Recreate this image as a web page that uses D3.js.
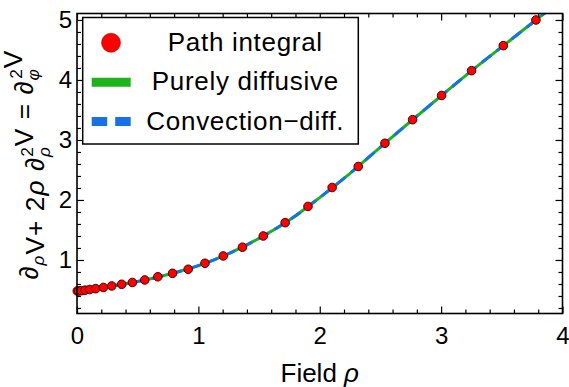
<!DOCTYPE html>
<html>
<head>
<meta charset="utf-8">
<script src="https://cdn.jsdelivr.net/npm/d3@7"></script>
<style>
  html, body { margin: 0; padding: 0; background: #fff; }
  svg { display: block; font-family: "Liberation Sans", Arial, Helvetica, sans-serif; }
</style>
</head>
<body>
<svg id="chart" width="569" height="387"></svg>
<script>
// path integral points (rho, value)
const rho = [0.0025, 0.014, 0.035, 0.066, 0.105, 0.154, 0.217, 0.286, 0.368, 0.456, 0.558, 0.666, 0.787, 0.916,
  1.054, 1.205, 1.363, 1.535, 1.715, 1.903, 2.102, 2.317, 2.537, 2.765, 3.004, 3.251, 3.512, 3.781]
const pathIntegral = [0.483, 0.485, 0.488, 0.497, 0.508, 0.522, 0.542, 0.567, 0.595, 0.625, 0.667, 0.72, 0.778, 0.845,
  0.945, 1.067, 1.213, 1.40, 1.622, 1.892, 2.208, 2.558, 2.945, 3.338, 3.742, 4.155, 4.572, 5.0]

// the two analytic curves lie on top of each other
const curveRho = [0, 0.25, 0.5, 0.75, 1.0, 1.25, 1.5, 1.75, 2.0, 2.25, 2.5, 2.75, 3.0, 3.25, 3.5, 3.75, 4.0]
const curveValue = [0.482, 0.555, 0.64, 0.758, 0.905, 1.105, 1.36, 1.665, 2.04, 2.445, 2.88, 3.312, 3.735, 4.153, 4.552, 4.95, 5.35]

const xTicks = [0, 1, 2, 3, 4]
const yTicks = [1, 2, 3, 4, 5]
const legendLabels = ["Path integral", "Purely diffusive", "Convection\u2212diff."]

const red = "#ff0000"
const green = "#1db31d"
const blue = "#1673e6"

const plotLeft = 77, plotRight = 562.5, plotTop = 13.5, plotBottom = 313.5

const svg = d3.select("#chart")

const x = d3.scaleLinear().domain([0, 4]).range([plotLeft, plotRight])
const y = d3.scaleLinear().domain([0.108, 5.108]).range([plotBottom, plotTop])

const minorX = d3.range(0, 4.001, 0.2).filter(v => Math.abs(v - Math.round(v)) > 1e-6)
const minorY = d3.range(0.2, 5.101, 0.2).filter(v => Math.abs(v - Math.round(v)) > 1e-6)

// clip for the curves
svg.append("clipPath").attr("id", "plotClip")
  .append("rect")
  .attr("x", plotLeft).attr("y", plotTop)
  .attr("width", plotRight - plotLeft).attr("height", plotBottom - plotTop)

const line = d3.line()
  .x((d, i) => x(curveRho[i]))
  .y(d => y(d))
  .curve(d3.curveMonotoneX)

const curves = svg.append("g").attr("clip-path", "url(#plotClip)")

curves.append("path")
  .attr("d", line(curveValue))
  .attr("fill", "none")
  .attr("stroke", green)
  .attr("stroke-width", 3)

curves.append("path")
  .attr("d", line(curveValue))
  .attr("fill", "none")
  .attr("stroke", blue)
  .attr("stroke-width", 3)
  .attr("stroke-dasharray", "12,7")

svg.append("g")
  .selectAll("circle")
  .data(pathIntegral)
  .join("circle")
  .attr("cx", (d, i) => x(rho[i]))
  .attr("cy", d => y(d))
  .attr("r", 4.3)
  .attr("fill", red)
  .attr("stroke", "#4a0000")
  .attr("stroke-width", 1)

// frame axes, ticks pointing inward
function styleAxis(g) {
  g.select(".domain").remove()
  g.attr("font-family", null).attr("font-size", null)
  g.selectAll(".tick line").attr("stroke", "#000").attr("stroke-width", 1.2)
  g.selectAll(".tick text").attr("fill", "#000").style("font-size", "24px")
}

svg.append("g")
  .attr("transform", `translate(0,${plotBottom})`)
  .call(d3.axisBottom(x).tickValues(xTicks).tickSizeInner(-7).tickSizeOuter(0).tickPadding(13).tickFormat(d3.format("d")))
  .call(styleAxis)
svg.append("g")
  .attr("transform", `translate(0,${plotBottom})`)
  .call(d3.axisBottom(x).tickValues(minorX).tickSizeInner(-4).tickSizeOuter(0).tickFormat(""))
  .call(styleAxis)

svg.append("g")
  .attr("transform", `translate(${plotLeft},0)`)
  .call(d3.axisLeft(y).tickValues(yTicks).tickSizeInner(-7).tickSizeOuter(0).tickPadding(5).tickFormat(d3.format("d")))
  .call(styleAxis)
svg.append("g")
  .attr("transform", `translate(${plotLeft},0)`)
  .call(d3.axisLeft(y).tickValues(minorY).tickSizeInner(-4).tickSizeOuter(0).tickFormat(""))
  .call(styleAxis)

svg.append("g")
  .attr("transform", `translate(0,${plotTop})`)
  .call(d3.axisTop(x).tickValues(xTicks).tickSizeInner(-7).tickSizeOuter(0).tickFormat(""))
  .call(styleAxis)
svg.append("g")
  .attr("transform", `translate(0,${plotTop})`)
  .call(d3.axisTop(x).tickValues(minorX).tickSizeInner(-4).tickSizeOuter(0).tickFormat(""))
  .call(styleAxis)

svg.append("g")
  .attr("transform", `translate(${plotRight},0)`)
  .call(d3.axisRight(y).tickValues(yTicks).tickSizeInner(-7).tickSizeOuter(0).tickFormat(""))
  .call(styleAxis)
svg.append("g")
  .attr("transform", `translate(${plotRight},0)`)
  .call(d3.axisRight(y).tickValues(minorY).tickSizeInner(-4).tickSizeOuter(0).tickFormat(""))
  .call(styleAxis)

svg.append("rect")
  .attr("x", plotLeft).attr("y", plotTop)
  .attr("width", plotRight - plotLeft).attr("height", plotBottom - plotTop)
  .attr("fill", "none")
  .attr("stroke", "#000")
  .attr("stroke-width", 1.6)

// axis titles
const xTitle = svg.append("text")
  .attr("x", (plotLeft + plotRight) / 2)
  .attr("y", 381.5)
  .attr("text-anchor", "middle")
  .style("font-size", "26px")
xTitle.append("tspan").text("Field ")
xTitle.append("tspan").attr("font-style", "italic").text("\u03c1")

const yTitleG = svg.append("g")
const yTitle = yTitleG.append("text")
  .attr("text-anchor", "middle")
  .style("font-size", "26px")
  .style("letter-spacing", "1px")

function sub(t, s) {
  t.append("tspan").attr("font-size", "17px").attr("font-style", "italic").attr("dy", 6).text(s)
  t.append("tspan").attr("dy", -6).text("")
}
function subSup(t, s) {
  t.append("tspan").attr("font-size", "17px").attr("font-style", "italic").attr("dy", 6).text(s)
  t.append("tspan").attr("font-size", "17px").attr("dx", -10.5).attr("dy", -17).text("2")
  t.append("tspan").attr("dy", 11).text("")
}
yTitle.append("tspan").text("\u2202")
sub(yTitle, "\u03c1")
yTitle.append("tspan").text("V+ 2")
yTitle.append("tspan").attr("font-style", "italic").text("\u03c1")
yTitle.append("tspan").text(" \u2202")
subSup(yTitle, "\u03c1")
yTitle.append("tspan").text("V = \u2202")
subSup(yTitle, "\u03c6")
yTitle.append("tspan").text("V")

// stretch the rotated title to the length it has in the reference
const titleLen = yTitle.node().getBBox().width
const fit = 230 / titleLen
yTitleG.attr("transform", `translate(38,${(plotTop + plotBottom) / 2 + 1}) rotate(-90) scale(${fit})`)

// legend
const legend = svg.append("g")
legend.append("rect")
  .attr("x", 82.7).attr("y", 17.5)
  .attr("width", 275.6).attr("height", 126.5)
  .attr("fill", "#fff")
  .attr("stroke", "#000")
  .attr("stroke-width", 1.5)

const rowY = [42.7, 82.3, 121.5]
legend.append("circle")
  .attr("cx", 111).attr("cy", rowY[0]).attr("r", 9.5)
  .attr("fill", red).attr("stroke", "#b00000").attr("stroke-width", 0.6)
legend.append("line")
  .attr("x1", 91.7).attr("x2", 130.7)
  .attr("y1", rowY[1]).attr("y2", rowY[1])
  .attr("stroke", green).attr("stroke-width", 9)
legend.append("line")
  .attr("x1", 91.7).attr("x2", 130.7)
  .attr("y1", rowY[2]).attr("y2", rowY[2])
  .attr("stroke", blue).attr("stroke-width", 9)
  .attr("stroke-dasharray", "15.5,8")

legend.selectAll("text.label")
  .data(legendLabels)
  .join("text")
  .attr("class", "label")
  .attr("x", 245.3)
  .attr("y", (d, i) => rowY[i] + 8)
  .attr("text-anchor", "middle")
  .style("font-size", "26px")
  .style("letter-spacing", "0.7px")
  .text(d => d)
</script>
</body>
</html>
